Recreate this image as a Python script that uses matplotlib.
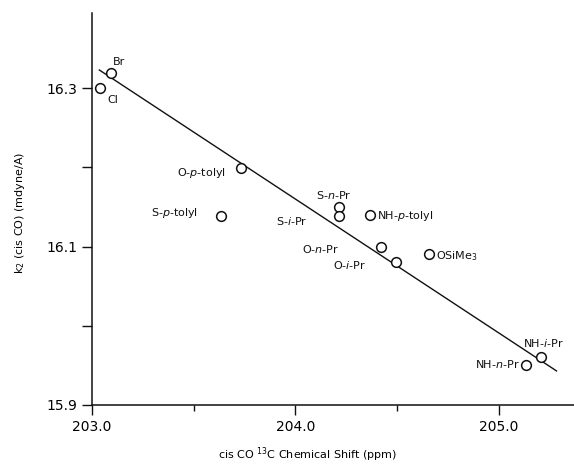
import matplotlib
matplotlib.use("Agg")
import matplotlib.pyplot as plt

# data
labels = ["Br", "Cl", "O-$\\it{p}$-tolyl", "S-$\\it{p}$-tolyl", "S-$\\it{n}$-Pr", "S-$\\it{i}$-Pr",
          "NH-$\\it{p}$-tolyl", "O-$\\it{n}$-Pr", "O-$\\it{i}$-Pr", "OSiMe$_3$", "NH-$\\it{i}$-Pr", "NH-$\\it{n}$-Pr"]
shift_ppm = [203.093, 203.041, 203.731, 203.632, 204.214, 204.214,
             204.366, 204.419, 204.497, 204.659, 205.206, 205.133]
k2 = [16.319, 16.300, 16.199, 16.139, 16.150, 16.139,
      16.140, 16.100, 16.080, 16.091, 15.961, 15.950]
fit_x = [203.036, 205.284]
fit_y = [16.323, 15.943]
xticks = [203.0, 204.0, 205.0]
xtick_labels = ["203.0", "204.0", "205.0"]
yticks = [15.9, 16.0, 16.1, 16.2, 16.3]
ytick_labels = ["15.9", "", "16.1", "", "16.3"]

# label placement (offset pixels, alignment)
label_style = [
    ((2, 11), "left"), ((7, -12), "left"), ((-15, -5), "right"), ((-22, 3), "right"),
    ((-5, 12), "center"), ((-31, -5), "right"), ((7, -1), "left"), ((-41, -2), "right"),
    ((-30, -3), "right"), ((7, -2), "left"), ((3, 14), "center"), ((-6, 1), "right"),
]

fam = ["Liberation Sans Narrow", "DejaVu Sans"]
plt.rcParams['font.family'] = fam
plt.rcParams['mathtext.fontset'] = 'dejavusans'

fig = plt.figure(figsize=(5.74, 4.67), dpi=100)
ax = fig.add_axes([0.1603, 0.1328, 0.8397, 0.8394])

ax.plot(fit_x, fit_y, color="#111111", lw=1.0)
ax.plot(shift_ppm, k2, linestyle="none", marker="o", markersize=7,
        markerfacecolor="white", markeredgecolor="#111111", markeredgewidth=1.1)

for lab, x, y, (off, ha) in zip(labels, shift_ppm, k2, label_style):
    ax.annotate(lab, (x, y), xytext=off, textcoords="offset pixels",
                ha=ha, va="center", fontsize=8, color="#111111")

ax.set_xlim(203.0, 205.37)
ax.set_ylim(15.9, 16.395)
ax.spines['top'].set_visible(False)
ax.spines['right'].set_visible(False)
for s in ['left', 'bottom']:
    ax.spines[s].set_linewidth(1.1)
    ax.spines[s].set_color("#111111")

ax.set_xticks(xticks)
ax.set_xticklabels(xtick_labels, fontsize=10)
ax.set_xticks([203.5, 204.5], minor=True)
ax.set_yticks(yticks)
ax.set_yticklabels(ytick_labels, fontsize=10)
ax.tick_params(axis='both', which='major', direction='out', length=7, width=1.0, color="#111111")
ax.tick_params(axis='x', which='minor', direction='out', length=4, width=1.0, color="#111111")

ax.set_xlabel("cis CO $^{13}$C Chemical Shift (ppm)", fontsize=8)
ax.xaxis.set_label_coords(0.447, -0.103)
ax.set_ylabel("k$_2$ (cis CO) (mdyne/A)", fontsize=8)
ax.yaxis.set_label_coords(-0.135, 0.49)

fig.savefig("out.png", dpi=100)
